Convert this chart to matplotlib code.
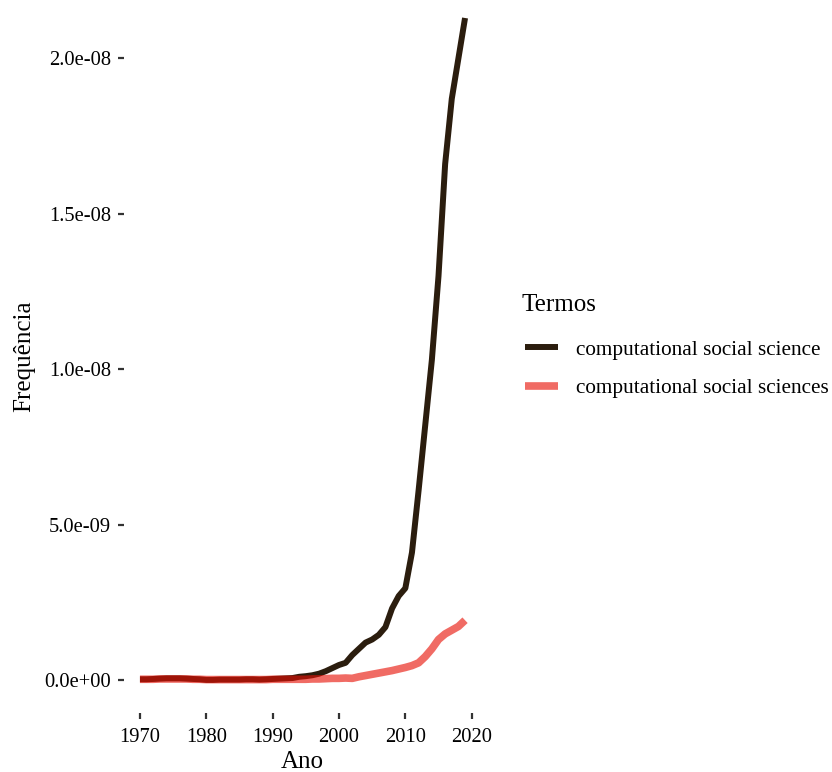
import matplotlib
matplotlib.use("Agg")
import matplotlib.pyplot as plt
import numpy as np

years = list(range(1970, 2020))
css = [0.02, 0.02, 0.03, 0.04, 0.05, 0.05, 0.05, 0.04, 0.03, 0.02,
       0.00, 0.00, 0.01, 0.01, 0.01, 0.01, 0.02, 0.02, 0.01, 0.02,
       0.03, 0.04, 0.05, 0.06, 0.10, 0.12, 0.15, 0.20, 0.28, 0.38,
       0.48, 0.55, 0.80, 1.00, 1.20, 1.30, 1.45, 1.70, 2.30, 2.70,
       2.95, 4.10, 6.10, 8.20, 10.3, 13.0, 16.6, 18.7, 20.0, 21.3]
csss = [0.02, 0.02, 0.02, 0.03, 0.03, 0.03, 0.03, 0.03, 0.02, 0.02,
        0.01, 0.01, 0.01, 0.01, 0.01, 0.01, 0.01, 0.01, 0.01, 0.01,
        0.02, 0.02, 0.02, 0.02, 0.02, 0.02, 0.03, 0.03, 0.04, 0.05,
        0.05, 0.06, 0.05, 0.10, 0.14, 0.18, 0.22, 0.26, 0.30, 0.35,
        0.40, 0.46, 0.55, 0.75, 1.00, 1.30, 1.48, 1.60, 1.72, 1.92]
scale = 1e-9
labels = ["computational social science", "computational social sciences"]
colors = ["#2b1d0e", "#e81005"]
x_ticks = [1970, 1980, 1990, 2000, 2010, 2020]
y_ticks = [0, 5e-9, 1e-8, 1.5e-8, 2e-8]
y_tick_labels = ["0.0e+00", "5.0e-09", "1.0e-08", "1.5e-08", "2.0e-08"]

plt.rcParams['font.family'] = ['Liberation Serif', 'DejaVu Serif']

fig = plt.figure(figsize=(8.32, 7.72), dpi=100)
ax = fig.add_axes([123.7 / 832, 1 - 713 / 772, (481.3 - 123.7) / 832, 713 / 772])

l1, = ax.plot(years, np.array(css) * scale, color=colors[0], lw=4.3,
              solid_capstyle='butt', solid_joinstyle='round', label=labels[0])
l2, = ax.plot(years, np.array(csss) * scale, color=colors[1], lw=5.5, alpha=0.62,
              solid_capstyle='butt', solid_joinstyle='round', label=labels[1])

ax.set_xlim(1967.55, 2021.45)
ax.set_ylim(-1.065e-9, 680 / 155.4 * 5e-9)
ax.set_xticks(x_ticks)
ax.set_yticks(y_ticks)
ax.set_yticklabels(y_tick_labels)
for s in ax.spines.values():
    s.set_visible(False)
ax.tick_params(axis='both', length=4, width=1.6, color='#333333', labelsize=14.8,
               labelcolor='black')
ax.tick_params(axis='x', pad=7)
ax.tick_params(axis='y', pad=5)
ax.set_xlabel("Ano", fontsize=18, labelpad=3)
ax.set_ylabel("Frequência", fontsize=18, labelpad=7)

fig.text(522 / 832, 1 - 311 / 772, "Termos", fontsize=18, ha='left', va='baseline')
leg = fig.legend(handles=[l1, l2], labels=labels,
                 loc='center left', bbox_to_anchor=(525 / 832, 1 - 369 / 772),
                 frameon=False, fontsize=15.3,
                 handlelength=1.55, handletextpad=0.85, labelspacing=0.86,
                 borderpad=0, borderaxespad=0)

fig.savefig("out.png", dpi=100)
